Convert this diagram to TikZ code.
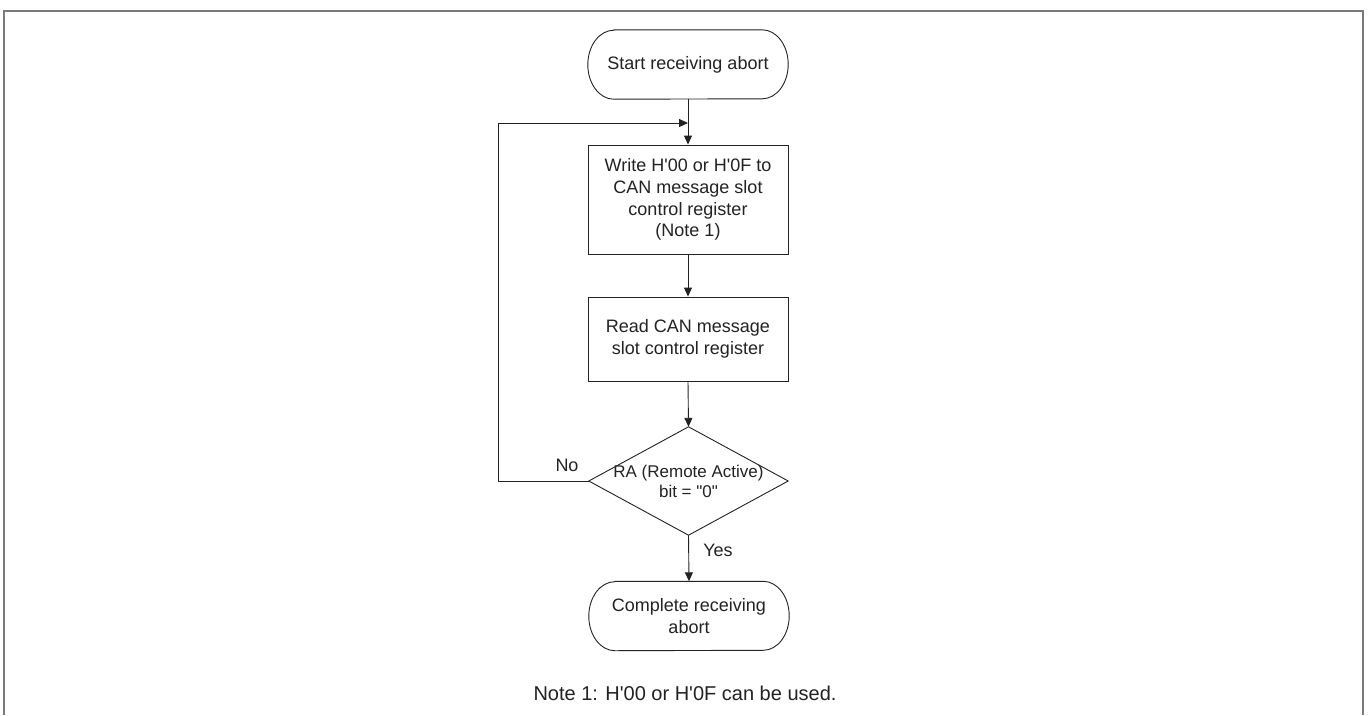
\documentclass[tikz,border=0pt]{standalone}
\usepackage{fontspec}
\setmainfont{Liberation Sans}
\usetikzlibrary{arrows.meta,calc}
\definecolor{ink}{HTML}{222222}
\definecolor{framegray}{HTML}{7A7A7A}
\newcommand{\sq}{\textquotesingle}
\newcommand{\dq}{\textquotedbl}
\tikzset{
  line/.style={draw=ink,line width=0.9pt},
  arr/.style={line,-{Triangle[length=9pt,width=8pt]}},
  txt/.style={text=ink,font=\fontsize{18}{21.7}\selectfont,align=center,inner sep=0pt},
  procbox/.style={txt,draw=ink,line width=0.9pt,minimum width=200pt},
  termbox/.style={txt,minimum width=200pt,minimum height=69pt},
  decbox/.style={txt,font=\fontsize{17}{20}\selectfont,minimum width=199pt,minimum height=108pt},
  lbl/.style={txt}
}
\begin{document}
\begin{tikzpicture}[x=1pt,y=-1pt]
\useasboundingbox (0,0) rectangle (1370,715);
% frame (open at the bottom edge)
\draw[draw=framegray,line width=1.5pt] (4,715) -- (4,11) -- (1363,11) -- (1363,715);

% nodes
\node[termbox] (s) at (688,64.5) {Start receiving abort};
\node[procbox,minimum height=109pt] (w) at (688,199.5) {Write H\sq00 or H\sq0F to\\CAN message slot\\control register\\(Note 1)};
\node[procbox,minimum height=84pt] (r) at (688,339) {Read CAN message\\slot control register};
\node[decbox] (d) at (688.5,481) {RA (Remote Active)\\bit = \dq0\dq};
\node[termbox] (e) at (689,616) {Complete receiving\\abort};
\node[txt,font=\fontsize{20}{24}\selectfont] (note) at (685,693) {Note 1: H\sq00 or H\sq0F can be used.};

% terminator outlines
\foreach \n in {s,e}{
  \draw[line] ([xshift=26pt]\n.north west) -- ([xshift=-26pt]\n.north east)
    arc[start angle=90,end angle=-90,x radius=26pt,y radius=34.5pt]
    -- ([xshift=26pt]\n.south west)
    arc[start angle=270,end angle=90,x radius=26pt,y radius=34.5pt] -- cycle;
}
% decision outline
\draw[line] (d.north) -- (d.east) -- (d.south) -- (d.west) -- cycle;

% connectors
\coordinate (j) at (688,123);
\coordinate (lc) at (498,123);
\draw[arr] (s.south) -- (w.north);
\draw[arr] (w.south) -- (r.north);
\draw[arr] (r.south) -- (d.north);
\draw[arr] (d.south) -- (e.north);
\draw[arr] (d.west) -| (lc) -- (j);

% labels
\node[lbl] (no) at (567,465) {No};
\node[lbl] (yes) at (718,550) {Yes};
\end{tikzpicture}
\end{document}
